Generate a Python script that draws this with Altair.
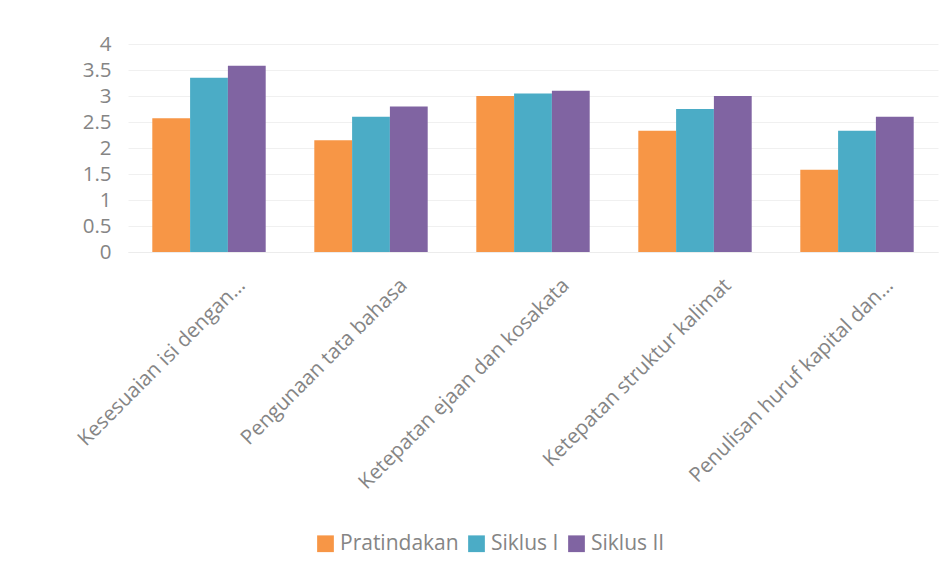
import altair as alt
import pandas as pd

categories = [
    "Kesesuaian isi dengan…",
    "Pengunaan tata bahasa",
    "Ketepatan ejaan dan kosakata",
    "Ketepatan struktur kalimat",
    "Penulisan huruf kapital dan…",
]
series = ["Pratindakan", "Siklus I", "Siklus II"]
pratindakan = [2.57, 2.15, 3.0, 2.33, 1.58]
siklus1 = [3.35, 2.6, 3.05, 2.75, 2.33]
siklus2 = [3.58, 2.8, 3.1, 3.0, 2.6]
colors = ["#F79646", "#4BACC6", "#8064A2"]
y_ticks = [0, 0.5, 1, 1.5, 2, 2.5, 3, 3.5, 4]

rows = []
for s, vals in zip(series, [pratindakan, siklus1, siklus2]):
    for c, v in zip(categories, vals):
        rows.append({"Kategori": c, "Seri": s, "Nilai": v})
df = pd.DataFrame(rows)

FONT = "Open Sans"
GRAY = "#858585"

chart = alt.Chart(df).mark_bar().encode(
    x=alt.X(
        "Kategori:N",
        sort=categories,
        title=None,
        scale=alt.Scale(paddingInner=0.3, paddingOuter=0.15),
        axis=alt.Axis(
            labelAngle=-45,
            labelAlign="right",
            labelBaseline="middle",
            labelFontSize=20.5,
            labelFont=FONT,
            labelColor=GRAY,
            labelOffset=33,
            labelPadding=30,
            labelLimit=500,
            ticks=False,
            domain=True,
            domainColor="#ececec",
            grid=False,
        ),
    ),
    xOffset=alt.XOffset("Seri:N", sort=series),
    y=alt.Y(
        "Nilai:Q",
        title=None,
        scale=alt.Scale(domain=[0, 4], nice=False),
        axis=alt.Axis(
            values=y_ticks,
            format="~g",
            labelFontSize=20.5,
            labelFont=FONT,
            labelColor=GRAY,
            labelPadding=17,
            ticks=False,
            domain=False,
            gridColor="#f0f0f0",
        ),
    ),
    color=alt.Color(
        "Seri:N",
        sort=series,
        scale=alt.Scale(domain=series, range=colors),
        legend=alt.Legend(
            title=None,
            orient="none",
            direction="horizontal",
            legendX=187,
            legendY=489,
            symbolType="square",
            symbolSize=280,
            symbolStrokeWidth=0,
            labelFontSize=21,
            labelFont=FONT,
            labelColor=GRAY,
            columnPadding=7,
            symbolOffset=0,
        ),
    ),
).properties(
    width=810,
    height=208,
    autosize=alt.AutoSizeParams(type="none"),
    padding={"left": 128, "top": 44, "right": 12, "bottom": 324},
).configure(background="white").configure_view(stroke=None, strokeWidth=0)

chart.save("out.html", embed_options={"renderer": "svg", "actions": False})
